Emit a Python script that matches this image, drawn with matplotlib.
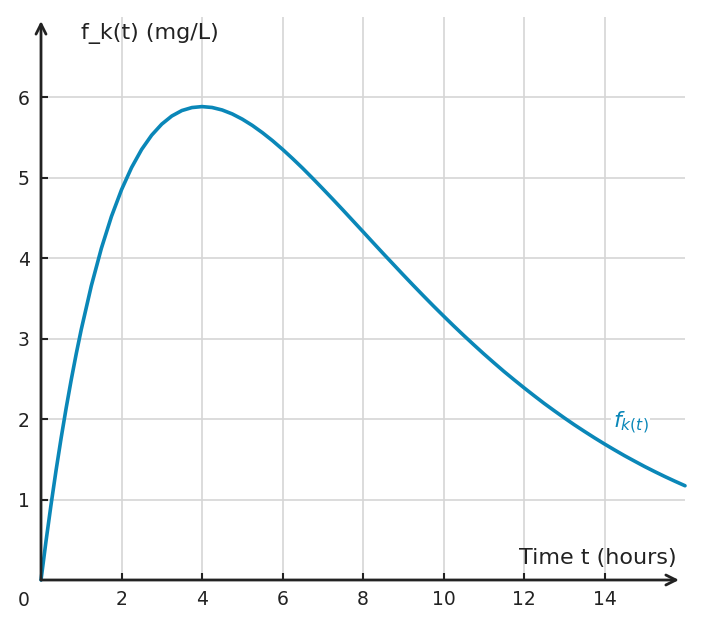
import matplotlib
matplotlib.use("Agg")
import matplotlib.pyplot as plt

# concentration
t_hours = [0, 0.125, 0.25, 0.375, 0.5, 0.625, 0.75, 0.875, 1, 1.25, 1.5, 1.75,
           2, 2.25, 2.5, 2.75, 3, 3.25, 3.5, 3.75, 4, 4.25, 4.5, 4.75, 5,
           5.25, 5.5, 5.75, 6, 6.25, 6.5, 6.75, 7, 7.25, 7.5, 7.75, 8, 8.25,
           8.5, 8.75, 9, 9.25, 9.5, 9.75, 10, 10.25, 10.5, 10.75, 11, 11.25,
           11.5, 11.75, 12, 12.25, 12.5, 12.75, 13, 13.25, 13.5, 13.75, 14,
           14.25, 14.5, 14.75, 15, 15.25, 15.5, 15.75, 16]
conc = [0, 0.485, 0.939, 1.366, 1.765, 2.138, 2.487, 2.812, 3.115, 3.658,
        4.124, 4.520, 4.852, 5.128, 5.353, 5.531, 5.668, 5.769, 5.837, 5.874,
        5.886, 5.875, 5.844, 5.795, 5.730, 5.652, 5.562, 5.463, 5.355, 5.240,
        5.120, 4.994, 4.865, 4.734, 4.601, 4.466, 4.331, 4.195, 4.060, 3.927,
        3.794, 3.663, 3.534, 3.407, 3.283, 3.161, 3.042, 2.926, 2.812, 2.702,
        2.594, 2.491, 2.390, 2.292, 2.196, 2.105, 2.016, 1.930, 1.848, 1.768,
        1.691, 1.617, 1.545, 1.477, 1.410, 1.347, 1.286, 1.228, 1.172]
x_ticks = [2, 4, 6, 8, 10, 12, 14]
y_ticks = [1, 2, 3, 4, 5, 6]

blue = "#0a87b8"
dark = "#222222"

fig = plt.figure(figsize=(7.02, 6.29), dpi=100)
ax = fig.add_axes([41 / 702, 49 / 629, 644 / 702, 563 / 629])
ax.set_xlim(0, 16)
ax.set_ylim(0, 7)

for s in ax.spines.values():
    s.set_visible(False)

ax.set_xticks(x_ticks)
ax.set_yticks(y_ticks)
ax.grid(True, color="#d5d5d5", linewidth=1.2)
ax.set_axisbelow(True)
ax.tick_params(direction="in", length=5, width=1.5, color=dark,
               labelsize=13.5, labelcolor=dark)
ax.tick_params(axis="y", pad=8)
ax.tick_params(axis="x", pad=7)

ax.plot(t_hours, conc, color=blue, linewidth=2.6, clip_on=False, zorder=3,
        solid_joinstyle="round", solid_capstyle="round")

# axis arrows
ax.annotate("", xy=(15.85, 0), xytext=(0, 0),
            arrowprops=dict(arrowstyle="->", color=dark, lw=2,
                            mutation_scale=18, shrinkA=0, shrinkB=0),
            annotation_clip=False)
ax.annotate("", xy=(0, 6.95), xytext=(0, 0),
            arrowprops=dict(arrowstyle="->", color=dark, lw=2,
                            mutation_scale=18, shrinkA=0, shrinkB=0),
            annotation_clip=False)

ax.text(-0.42, -0.25, "0", ha="center", va="center", fontsize=13.5, color=dark)
ax.text(1.0, 6.8, "f_k(t) (mg/L)", ha="left", va="center", fontsize=16,
        color=dark)
ax.text(15.8, 0.27, "Time t (hours)", ha="right", va="center", fontsize=16,
        color=dark)
ax.text(14.2, 1.95, "$f_{k(t)}$", ha="left", va="center", fontsize=16,
        color=blue, bbox=dict(facecolor="white", edgecolor="none", pad=1))

fig.savefig("out.png", dpi=100)
